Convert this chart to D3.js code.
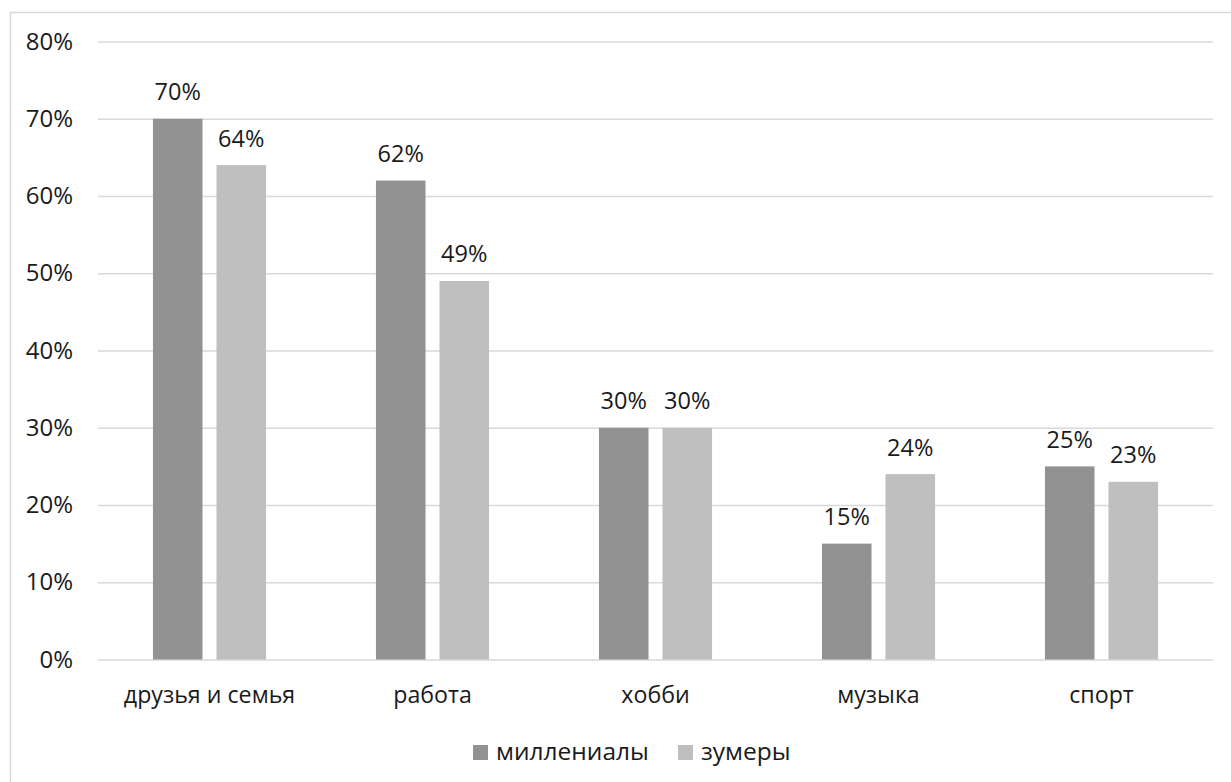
<!DOCTYPE html>
<html>
<head>
<meta charset="utf-8">
<script src="https://cdn.jsdelivr.net/npm/d3@7"></script>
<style>
  html, body { margin: 0; padding: 0; background: #fff; }
  svg { display: block; font-family: "Open Sans", sans-serif; }
</style>
</head>
<body>
<svg id="chart" width="1231" height="782"></svg>
<script>
// Categories and series
const categories = ["друзья и семья", "работа", "хобби", "музыка", "спорт"];
const seriesNames = ["миллениалы", "зумеры"];
const millennials = [0.70, 0.62, 0.30, 0.15, 0.25];
const zoomers = [0.64, 0.49, 0.30, 0.24, 0.23];
const yTicks = [0, 0.1, 0.2, 0.3, 0.4, 0.5, 0.6, 0.7, 0.8];
const colors = ["#929292", "#bfbfbf"];

const rows = categories.map((c, i) => ({ cat: c, values: [millennials[i], zoomers[i]] }));

const svg = d3.select("#chart");
const plot = { left: 98, right: 1213, top: 41.5, bottom: 659.5 };
const textColor = "#1a1a1a";
const fmt = d3.format(".0%");

// Outer frame of the chart area
svg.append("rect")
  .attr("x", 10.5).attr("y", 12.5)
  .attr("width", 1260).attr("height", 820)
  .attr("fill", "#fff").attr("stroke", "#d9d9d9").attr("stroke-width", 1.5);

const y = d3.scaleLinear().domain([0, 0.8]).range([plot.bottom, plot.top]);
const x0 = d3.scaleBand().domain(categories).range([plot.left, plot.right]).padding(0);
const x1 = d3.scaleBand().domain(seriesNames).range([0, x0.bandwidth()])
  .paddingInner(0.22).paddingOuter(0.865);

// Gridlines and y labels
const yAxis = d3.axisLeft(y).tickValues(yTicks).tickFormat(fmt)
  .tickSize(-(plot.right - plot.left)).tickPadding(25);
const gy = svg.append("g").attr("transform", `translate(${plot.left},0)`).call(yAxis);
gy.select(".domain").remove();
gy.selectAll(".tick line").attr("stroke", "#d9d9d9").attr("stroke-width", 1.5);
gy.selectAll(".tick text")
  .attr("fill", textColor).style("font-size", "24px")
  .style("font-family", "'Open Sans', sans-serif");

// Category labels
const xAxis = d3.axisBottom(x0).tickSize(0);
const gx = svg.append("g").attr("transform", `translate(0,${plot.bottom})`).call(xAxis);
gx.select(".domain").remove();
gx.selectAll(".tick text")
  .attr("y", 43.5).attr("dy", 0)
  .attr("fill", textColor).style("font-size", "23.2px")
  .style("font-family", "'Open Sans', sans-serif");

// Bars
const groups = svg.append("g").selectAll("g").data(rows).join("g")
  .attr("transform", d => `translate(${x0(d.cat)},0)`);

groups.selectAll("rect")
  .data(d => d.values.map((v, i) => ({ key: seriesNames[i], v, i })))
  .join("rect")
  .attr("x", d => x1(d.key))
  .attr("y", d => y(d.v))
  .attr("width", x1.bandwidth())
  .attr("height", d => y(0) - y(d.v))
  .attr("fill", d => colors[d.i]);

// Value labels
groups.selectAll("text.val")
  .data(d => d.values.map((v, i) => ({ key: seriesNames[i], v, i })))
  .join("text")
  .attr("class", "val")
  .attr("x", d => x1(d.key) + x1.bandwidth() / 2)
  .attr("y", d => y(d.v) - 18.5)
  .attr("text-anchor", "middle")
  .attr("fill", textColor)
  .style("font-size", "23.5px")
  .text(d => fmt(d.v));

// Legend
const legendItems = [
  { name: seriesNames[0], color: colors[0], x: 473 },
  { name: seriesNames[1], color: colors[1], x: 678 }
];
const lg = svg.append("g").selectAll("g").data(legendItems).join("g")
  .attr("transform", d => `translate(${d.x},745)`);
lg.append("rect").attr("width", 15).attr("height", 15).attr("fill", d => d.color);
lg.append("text").attr("x", 23).attr("y", 15)
  .attr("fill", textColor).style("font-size", "24.5px")
  .text(d => d.name);
</script>
</body>
</html>
